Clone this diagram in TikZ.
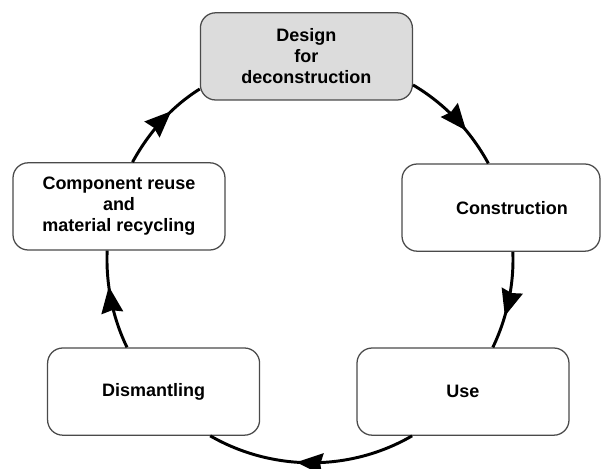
\documentclass[tikz,border=0pt]{standalone}
\usepackage{fontspec}
\setmainfont{Liberation Sans}
\usetikzlibrary{arrows.meta, decorations.markings}
\definecolor{boxgray}{HTML}{DCDCDC}
\definecolor{edgegray}{HTML}{4A4A4A}

\begin{document}
\begin{tikzpicture}[
    >={Stealth[length=6.6mm,width=5.4mm,inset=0.6mm]},
    stage/.style={draw=edgegray, line width=0.9pt, rounded corners=0.38cm, fill=white,
      minimum width=5.3cm, minimum height=2.18cm, align=center,
      font=\fontsize{12.8}{15}\selectfont\bfseries},
    flow/.style={line width=2.1pt,
      decoration={markings, mark=at position #1 with {\arrow{>}}},
      postaction={decorate}},
    flow/.default=0.64
  ]
  \useasboundingbox (-7.75,-5.225) rectangle (7.275,6.5);

  % stages round the cycle
  \node[stage, fill=boxgray] (design) at (-0.09,5.09) {Design\\for\\deconstruction};
  \node[stage, minimum width=4.95cm] (cons) at (4.775,1.31) {\hspace*{0.55cm}Construction};
  \node[stage] (use) at (3.825,-3.29) {Use};
  \node[stage] (dism) at (-3.91,-3.29) {Dismantling};
  \node[stage] (comp) at (-4.775,1.34) {Component reuse\\and\\material recycling};

  % clockwise flow, following one circle
  \draw[flow] (design.-15) to[out=-30.5, in=118.6, looseness=0.87] (cons.106);
  \draw[flow=0.66] (cons.-75) to[out=-87.7, in=64.3, looseness=0.86] (use.56);
  \draw[flow=0.57] (use.-139) to[out=-149.8, in=-30, looseness=0.91] (dism.-38.5);
  \draw[flow] (dism.121) to[out=116, in=-92.3, looseness=0.86] (comp.-105);
  \draw[flow] (comp.73.5) to[out=61.3, in=-148, looseness=0.87] (design.-163);
\end{tikzpicture}
\end{document}
